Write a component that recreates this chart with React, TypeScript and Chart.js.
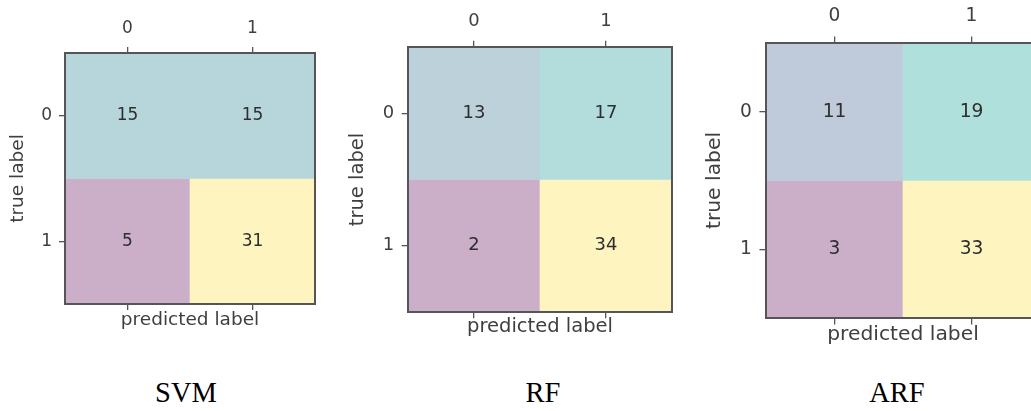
import React, { useEffect, useRef } from 'react';
import { Chart, registerables } from 'chart.js';

Chart.register(...registerables);

// ---- data ----
const axisLabels = ['0', '1'];
const yTickValues = [0, 1];

const svmRow0 = [15, 15];
const svmRow1 = [5, 31];
const rfRow0 = [13, 17];
const rfRow1 = [2, 34];
const arfRow0 = [11, 19];
const arfRow1 = [3, 33];

const svmColors0 = ['#b7d6dc', '#b7d6dc'];
const svmColors1 = ['#cbafc9', '#fdf4bf'];
const rfColors0 = ['#bcd1da', '#b3dddd'];
const rfColors1 = ['#cbafc9', '#fdf4bf'];
const arfColors0 = ['#bfcbdb', '#b0e0dc'];
const arfColors1 = ['#cbafc9', '#fdf4bf'];

const panelTitles = ['SVM', 'RF', 'ARF'];
const xTitle = 'predicted label';
const yTitle = 'true label';

// ---- layout (styles) ----
type Panel = {
  left: number;
  w: number;
  h: number;
  area: { l: number; r: number; t: number; b: number };
  s: number;
  yTitlePad: number;
  xTitlePad: number;
  titleX: number;
  row0: number[];
  row1: number[];
  c0: string[];
  c1: string[];
  title: string;
};

const panels: Panel[] = [
  {
    left: 0, w: 340, h: 340,
    area: { l: 65, r: 315, t: 53, b: 304 },
    s: 1, yTitlePad: 7, xTitlePad: 9, titleX: 186,
    row0: svmRow0, row1: svmRow1, c0: svmColors0, c1: svmColors1, title: panelTitles[0],
  },
  {
    left: 340, w: 350, h: 350,
    area: { l: 68, r: 332, t: 47, b: 312 },
    s: 1.056, yTitlePad: 6, xTitlePad: 11, titleX: 543,
    row0: rfRow0, row1: rfRow1, c0: rfColors0, c1: rfColors1, title: panelTitles[1],
  },
  {
    left: 690, w: 360, h: 360,
    area: { l: 76, r: 350, t: 43, b: 318 },
    s: 1.096, yTitlePad: 13, xTitlePad: 13, titleX: 897,
    row0: arfRow0, row1: arfRow1, c0: arfColors0, c1: arfColors1, title: panelTitles[2],
  },
];

const FONT = '"DejaVu Sans", sans-serif';
const TEXT = '#3f3f3f';
const EDGE = '#555555';

const cellText = {
  id: 'cellText',
  afterDatasetsDraw(chart: any, _args: any, opts: any) {
    const ctx = chart.ctx;
    ctx.save();
    ctx.fillStyle = '#2e2e2e';
    ctx.font = `${opts.size}px ${FONT}`;
    ctx.textAlign = 'center';
    ctx.textBaseline = 'middle';
    chart.data.datasets.forEach((ds: any, di: number) => {
      const meta = chart.getDatasetMeta(di);
      meta.data.forEach((el: any, i: number) => {
        const p = el.getCenterPoint();
        ctx.fillText(String(ds.values[i]), p.x, p.y);
      });
    });
    // axes frame (spines)
    const a = chart.chartArea;
    ctx.strokeStyle = EDGE;
    ctx.lineWidth = 2;
    ctx.strokeRect(a.left, a.top, a.right - a.left, a.bottom - a.top);
    ctx.restore();
  },
};

function makeConfig(p: Panel): any {
  const s = p.s;
  const tickFont = { family: FONT, size: 17 * s };
  const titleFont = { family: FONT, size: 18.5 * s };
  const gridCommon = {
    drawOnChartArea: false,
    drawTicks: true,
    tickLength: 6 * s,
    color: EDGE,
    lineWidth: 1.3,
  };
  return {
    type: 'bar',
    data: {
      labels: axisLabels,
      datasets: [
        {
          data: p.row0.map(() => [-0.5, 0.5]),
          values: p.row0,
          backgroundColor: p.c0,
          borderWidth: 0,
          grouped: false,
          barPercentage: 1,
          categoryPercentage: 1,
          xAxisID: 'x',
          yAxisID: 'y',
        },
        {
          data: p.row1.map(() => [0.5, 1.5]),
          values: p.row1,
          backgroundColor: p.c1,
          borderWidth: 0,
          grouped: false,
          barPercentage: 1,
          categoryPercentage: 1,
          xAxisID: 'x',
          yAxisID: 'y',
        },
      ],
    },
    options: {
      animation: false,
      responsive: false,
      devicePixelRatio: 1,
      events: [],
      layout: { padding: { left: 0, top: 0, bottom: 0, right: p.w - p.area.r } },
      plugins: {
        legend: { display: false },
        tooltip: { enabled: false },
        title: { display: false },
        cellText: { size: 17 * s },
      },
      scales: {
        x: {
          type: 'category',
          position: 'top',
          labels: axisLabels,
          offset: true,
          afterFit: (sc: any) => { sc.height = p.area.t; },
          ticks: { font: tickFont, color: TEXT, padding: 8 * s, maxRotation: 0 },
          grid: { ...gridCommon, offset: false },
          border: { display: false },
        },
        x2: {
          type: 'category',
          position: 'bottom',
          labels: axisLabels,
          offset: true,
          afterFit: (sc: any) => { sc.height = p.h - p.area.b; },
          ticks: { display: false },
          grid: { ...gridCommon, offset: false },
          border: { display: false },
          title: {
            display: true,
            text: xTitle,
            font: titleFont,
            color: TEXT,
            padding: { top: 0, bottom: p.xTitlePad },
          },
        },
        y: {
          type: 'linear',
          position: 'left',
          min: -0.5,
          max: 1.5,
          reverse: true,
          afterBuildTicks: (sc: any) => { sc.ticks = yTickValues.map((v) => ({ value: v })); },
          afterFit: (sc: any) => { sc.width = p.area.l; },
          ticks: { font: tickFont, color: TEXT, padding: 7 * s, callback: (v: any) => String(v) },
          grid: gridCommon,
          border: { display: false },
          title: {
            display: true,
            text: yTitle,
            font: titleFont,
            color: TEXT,
            padding: { top: p.yTitlePad, bottom: 0 },
          },
        },
      },
    },
    plugins: [cellText],
  };
}

function Matrix({ p }: { p: Panel }) {
  const ref = useRef<HTMLCanvasElement | null>(null);
  useEffect(() => {
    if (!ref.current) return;
    const chart = new Chart(ref.current, makeConfig(p));
    return () => chart.destroy();
  }, [p]);
  return (
    <div style={{ position: 'absolute', left: p.left, top: 0, width: p.w, height: p.h }}>
      <canvas ref={ref} width={p.w} height={p.h} style={{ display: 'block', width: p.w, height: p.h }} />
    </div>
  );
}

export default function App() {
  return (
    <div
      style={{
        position: 'absolute',
        left: 0,
        top: 0,
        width: 1031,
        height: 411,
        overflow: 'hidden',
        background: '#ffffff',
      }}
    >
      {panels.map((p) => (
        <Matrix key={p.title} p={p} />
      ))}
      {panels.map((p) => (
        <div
          key={'t' + p.title}
          style={{
            position: 'absolute',
            left: p.titleX,
            top: 379,
            transform: 'translateX(-50%)',
            fontFamily: '"Liberation Serif", "Times New Roman", serif',
            fontSize: 28.5,
            lineHeight: '28.5px',
            color: '#000',
            whiteSpace: 'nowrap',
          }}
        >
          {p.title}
        </div>
      ))}
    </div>
  );
}
